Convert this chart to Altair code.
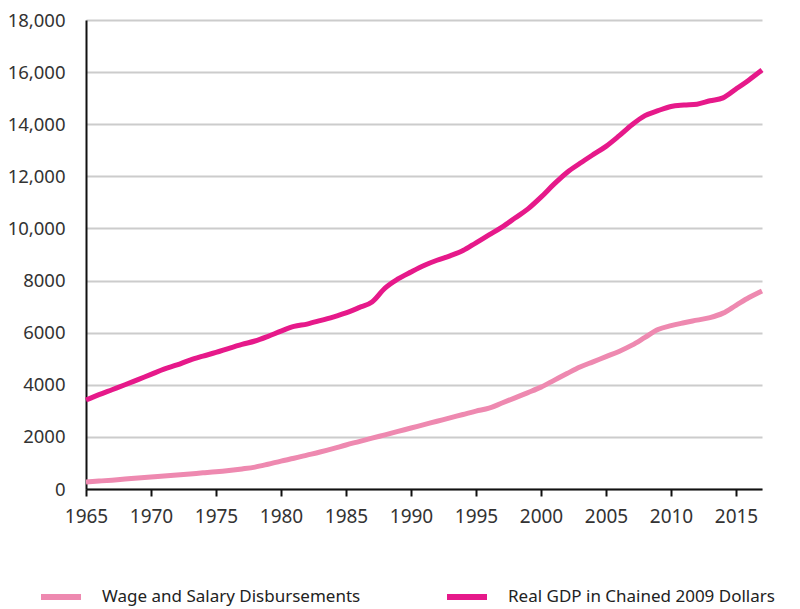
import altair as alt
import pandas as pd

years = list(range(1965, 2018))
gdp = [3415, 3620, 3810, 4000, 4200, 4400, 4600, 4760, 4950, 5100,
       5240, 5400, 5550, 5680, 5860, 6060, 6240, 6330, 6460, 6600,
       6760, 6960, 7175, 7710, 8060, 8330, 8580, 8780, 8950, 9150,
       9450, 9750, 10050, 10400, 10750, 11200, 11700, 12150, 12500, 12830,
       13150, 13550, 13980, 14330, 14520, 14680, 14735, 14770, 14900, 15010,
       15350, 15700, 16080]
wage = [270, 305, 340, 380, 420, 460, 500, 540, 580, 620,
        660, 710, 770, 840, 950, 1070, 1180, 1300, 1420, 1550,
        1690, 1820, 1950, 2080, 2210, 2340, 2470, 2600, 2730, 2860,
        2990, 3100, 3300, 3500, 3700, 3910, 4170, 4430, 4680, 4880,
        5080, 5280, 5520, 5820, 6120, 6270, 6380, 6480, 6580, 6750,
        7050, 7350, 7600]

series_names = ["Wage and Salary Disbursements", "Real GDP in Chained 2009 Dollars"]
series_colors = ["#ee89b0", "#e6198a"]

rows = []
for y, v in zip(years, wage):
    rows.append({"year": y, "value": v, "series": series_names[0]})
for y, v in zip(years, gdp):
    rows.append({"year": y, "value": v, "series": series_names[1]})
df = pd.DataFrame(rows)

chart = alt.Chart(df).mark_line(strokeWidth=5, strokeCap="butt", interpolate="monotone").encode(
    x=alt.X("year:Q",
            scale=alt.Scale(domain=[1965, 2017], nice=False, zero=False),
            axis=alt.Axis(values=list(range(1965, 2016, 5)), format="d", title=None,
                          grid=False, tickSize=7, tickWidth=2, tickColor="#111",
                          domainColor="#111", domainWidth=2, labelPadding=11,
                          labelFlush=False, labelOverlap=False,
                          labelFontSize=19, labelColor="#333", labelFont="Noto Sans")),
    y=alt.Y("value:Q",
            scale=alt.Scale(domain=[0, 18000], nice=False),
            axis=alt.Axis(values=list(range(0, 18001, 2000)), title=None,
                          labelExpr="datum.value >= 10000 ? format(datum.value, ',') : format(datum.value, 'd')",
                          ticks=False, grid=True, gridColor="#cccccc", gridWidth=2,
                          domainColor="#111", domainWidth=2, labelPadding=21,
                          labelFlush=False, labelOverlap=False,
                          labelFontSize=18.5, labelColor="#333", labelFont="Noto Sans")),
    color=alt.Color("series:N",
                    scale=alt.Scale(domain=series_names, range=series_colors),
                    legend=alt.Legend(title=None, orient="none", legendX=-48, legendY=554,
                                      direction="horizontal", columns=2, columnPadding=74,
                                      symbolType="stroke", symbolSize=1600, symbolStrokeWidth=6,
                                      labelFontSize=17, labelFont="Noto Sans", labelColor="#222",
                                      labelOffset=18, labelLimit=400)),
).properties(
    width=676, height=469,
    autosize=alt.AutoSizeParams(type="none"),
    padding={"left": 78, "top": 12, "right": 30, "bottom": 119},
).configure_view(stroke=None)

chart.save("out.html", embed_options={"renderer": "svg", "actions": False})
